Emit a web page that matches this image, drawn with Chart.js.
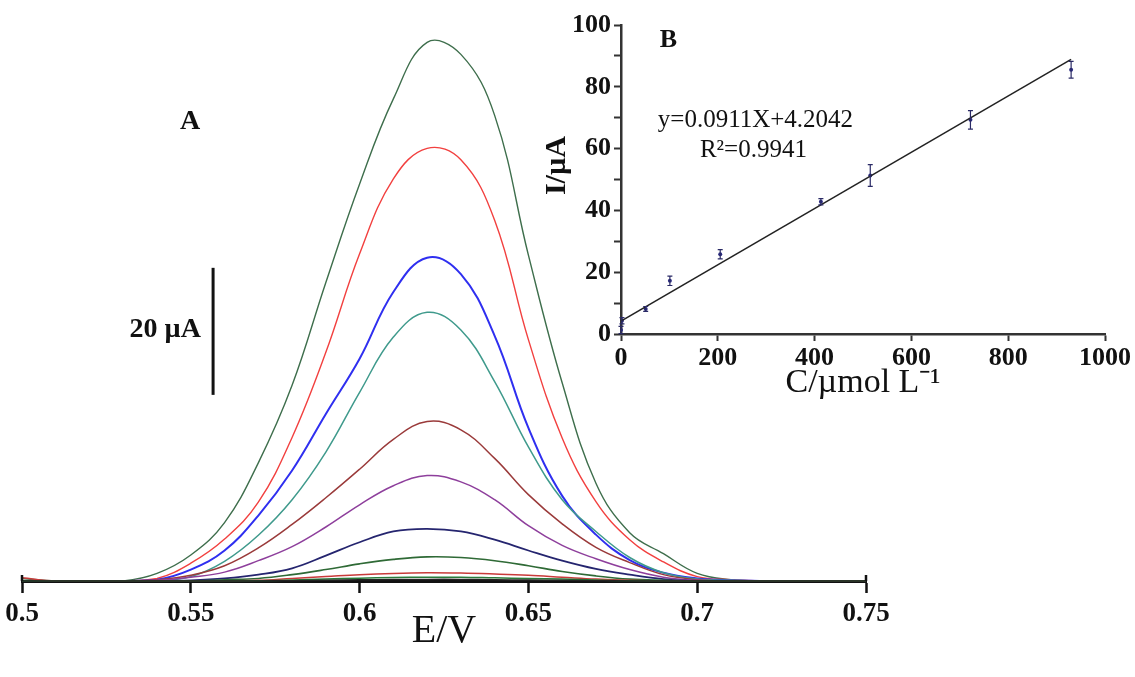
<!DOCTYPE html>
<html><head><meta charset="utf-8">
<script src="https://cdn.jsdelivr.net/npm/chart.js@4.4.1/dist/chart.umd.min.js"></script>
<style>
html,body{margin:0;padding:0;background:#fff;}
#wrap{position:relative;width:1135px;height:677px;overflow:hidden;}
#main{position:absolute;left:0;top:0;}
#inset{position:absolute;left:540px;top:0;}
</style></head><body>
<div id="wrap">
<canvas id="main" width="1135" height="677"></canvas>
<canvas id="inset" width="595" height="420"></canvas>
</div>
<script>
// ---------- Panel A: DPV curves (E in V, I in µA) ----------
const potentials = [0.50, 0.51, 0.52, 0.53, 0.54, 0.55, 0.56, 0.57, 0.58, 0.59, 0.60, 0.61, 0.62, 0.63, 0.64, 0.65, 0.66, 0.67, 0.68, 0.69, 0.70, 0.71, 0.72, 0.73, 0.74, 0.75];
const curve1  = [0.4, 0, 0, 0, 1.2, 4.1, 9.2, 18.6, 30.8, 47, 62.5, 75.9, 84.8, 82.9, 73.3, 51.3, 31.2, 15.4, 7.6, 4.3, 1.2, 0.2, 0, 0, 0, 0];
const curve2  = [0, 0, 0, 0, 0.4, 2.8, 6.6, 12.4, 22.6, 36, 51.5, 63.3, 68.1, 66.3, 56.8, 38, 22.5, 12.5, 6.5, 3.0, 0.7, 0.2, 0, 0, 0, 0];
const curve3  = [0, 0, 0, 0, 0.2, 1.8, 4.8, 10.3, 17.4, 26.3, 35, 45.5, 50.9, 48.3, 38.6, 24.1, 13.4, 7.3, 3.3, 1.3, 0.4, 0.1, 0, 0, 0, 0];
const curve4  = [0, 0, 0, 0, 0, 0.7, 3.1, 7.2, 12.8, 20.3, 29.7, 38.4, 42.3, 39.5, 31.4, 21.1, 12.8, 7.8, 3.7, 1.3, 0.3, 0.1, 0, 0, 0, 0];
const curve5  = [0, 0, 0, 0, 0.2, 0.9, 2.4, 5.2, 8.9, 13.1, 17.6, 22.3, 25.1, 23.8, 19.3, 13.6, 9.0, 5.3, 2.9, 1.0, 0.2, 0, 0, 0, 0, 0];
const curve6  = [0, 0, 0, 0, 0.1, 0.6, 1.4, 3.2, 5.4, 8.5, 12.0, 15.0, 16.6, 15.6, 12.8, 8.7, 5.6, 3.5, 1.8, 0.6, 0.1, 0, 0, 0, 0, 0];
const curve7  = [0, 0, 0, 0, 0, 0.1, 0.4, 1.0, 2.0, 4.0, 6.1, 7.8, 8.2, 7.8, 6.5, 4.8, 3.2, 1.9, 1.0, 0.3, 0, 0, 0, 0, 0, 0];
const curve8  = [0, 0, 0, 0, 0, 0, 0.2, 0.4, 1.0, 1.8, 2.7, 3.4, 3.8, 3.7, 3.2, 2.4, 1.5, 0.8, 0.3, 0.1, 0, 0, 0, 0, 0, 0];
const curve9  = [0.5, 0, 0, 0, 0, 0, 0, 0.1, 0.4, 0.7, 1.0, 1.2, 1.3, 1.25, 1.1, 0.9, 0.6, 0.3, 0.1, 0, 0, 0, 0, 0, 0, 0];
const curve10 = [0, 0, 0, 0, 0, 0, 0, 0.05, 0.15, 0.3, 0.45, 0.55, 0.6, 0.6, 0.5, 0.4, 0.3, 0.15, 0.05, 0, 0, 0, 0, 0, 0, 0];
const curve11 = [0, 0, 0, 0, 0, 0, 0, 0, 0.05, 0.1, 0.18, 0.22, 0.25, 0.25, 0.2, 0.15, 0.1, 0.05, 0, 0, 0, 0, 0, 0, 0, 0];
const potentialTicks = [0.5, 0.55, 0.6, 0.65, 0.7, 0.75];

// ---------- Panel B: calibration ----------
const concC    = [0, 2, 51, 101, 205, 413, 515, 722, 930];
const currentI = [1.3, 4.3, 8.1, 17.2, 25.8, 42.8, 51.3, 69.3, 85.5];
const errI     = [1.2, 1.0, 0.8, 1.5, 1.5, 1.0, 3.5, 3.0, 2.7];
const fitC = [0, 930];
const fitI = [4.2, 88.9];
const concTicks = [0, 200, 400, 600, 800, 1000];

const SERIF = "'Liberation Serif', 'Times New Roman', serif";
const curves = [curve1, curve2, curve3, curve4, curve5, curve6, curve7, curve8, curve9, curve10, curve11];
const colors = ['#3e6e4c', '#f2403f', '#2f2ff0', '#3f9a8c', '#9a3a3a', '#8e3f9c', '#25256f', '#2f6a36', '#c83a3a', '#2a7a3a', '#222222'];
const widths = [1.4, 1.4, 2.0, 1.5, 1.5, 1.5, 1.8, 1.6, 1.5, 1.5, 1.5];

const mainNotes = {
  id: 'mainNotes',
  afterDraw(chart) {
    const {ctx, scales: {x, y}} = chart;
    ctx.save();
    ctx.fillStyle = '#111';
    ctx.textBaseline = 'middle';
    ctx.font = `bold 28px ${SERIF}`;
    ctx.textAlign = 'left';
    ctx.fillText('A', x.getPixelForValue(0.5468), y.getPixelForValue(72.3));
    const bx = x.getPixelForValue(0.5566);
    ctx.strokeStyle = '#111';
    ctx.lineWidth = 3;
    ctx.beginPath();
    ctx.moveTo(bx, y.getPixelForValue(29.3));
    ctx.lineTo(bx, y.getPixelForValue(49.3));
    ctx.stroke();
    ctx.font = `bold 28px ${SERIF}`;
    ctx.textAlign = 'right';
    ctx.fillText('20 µA', x.getPixelForValue(0.5530), y.getPixelForValue(39.5));
    // end caps of the potential axis
    ctx.lineWidth = 2.5;
    [x.min, x.max].forEach(v => {
      const px = x.getPixelForValue(v);
      const py = y.getPixelForValue(0);
      ctx.beginPath(); ctx.moveTo(px, py - 6); ctx.lineTo(px, py); ctx.stroke();
    });
    ctx.restore();
  }
};

new Chart(document.getElementById('main'), {
  type: 'line',
  data: {
    datasets: curves.map((c, i) => ({
      data: potentials.map((e, j) => ({x: e, y: c[j]})),
      borderColor: colors[i],
      borderWidth: widths[i],
      pointRadius: 0,
      fill: false,
      tension: 0.4,
      clip: 6
    })).reverse()
  },
  options: {
    responsive: false,
    animation: false,
    layout: {padding: {left: 22, right: 269, top: 22, bottom: 0}},
    plugins: {legend: {display: false}, tooltip: {enabled: false}},
    scales: {
      x: {
        type: 'linear', min: 0.5, max: 0.75,
        afterBuildTicks(s) { s.ticks = potentialTicks.map(v => ({value: v})); },
        ticks: {color: '#111', font: {family: SERIF, size: 27, weight: 'bold'}, padding: 5, maxRotation: 0,
          callback: v => String(+v.toFixed(2))},
        grid: {drawOnChartArea: false, drawTicks: true, tickLength: 12, tickColor: '#111', tickWidth: 2.5},
        border: {display: true, color: '#111', width: 3},
        title: {display: true, text: 'E/V', color: '#111', font: {family: SERIF, size: 40}, padding: {top: 0, bottom: 22}},
        afterFit(s) { s.height = 96; }
      },
      y: {display: false, min: 0, max: 88}
    }
  },
  plugins: [mainNotes]
});

const errorBars = {
  id: 'errorBars',
  afterDatasetsDraw(chart) {
    const {ctx, scales: {x, y}} = chart;
    ctx.save();
    ctx.strokeStyle = '#2a2a66';
    ctx.lineWidth = 1.2;
    concC.forEach((c, i) => {
      const px = x.getPixelForValue(c);
      const t = y.getPixelForValue(currentI[i] + errI[i]);
      const b = y.getPixelForValue(currentI[i] - errI[i]);
      ctx.beginPath();
      ctx.moveTo(px, t); ctx.lineTo(px, b);
      ctx.moveTo(px - 2.5, t); ctx.lineTo(px + 2.5, t);
      ctx.moveTo(px - 2.5, b); ctx.lineTo(px + 2.5, b);
      ctx.stroke();
    });
    ctx.restore();
  }
};

const insetNotes = {
  id: 'insetNotes',
  afterDraw(chart) {
    const {ctx, scales: {x, y}} = chart;
    ctx.save();
    ctx.fillStyle = '#111';
    ctx.textBaseline = 'middle';
    ctx.textAlign = 'left';
    ctx.font = `bold 26px ${SERIF}`;
    ctx.fillText('B', x.getPixelForValue(80), y.getPixelForValue(95));
    ctx.font = `25px ${SERIF}`;
    ctx.fillText('y=0.0911X+4.2042', x.getPixelForValue(76), y.getPixelForValue(69));
    ctx.fillText('R²=0.9941', x.getPixelForValue(163), y.getPixelForValue(59.5));
    // y-axis title, placed above the axis centre as in the original
    ctx.translate(y.left + 17, y.getPixelForValue(54.5));
    ctx.rotate(-Math.PI / 2);
    ctx.textAlign = 'center';
    ctx.font = `bold 30px ${SERIF}`;
    ctx.fillText('I/µA', 0, 0);
    ctx.restore();
  }
};

new Chart(document.getElementById('inset'), {
  type: 'scatter',
  data: {
    datasets: [
      {data: fitC.map((v, i) => ({x: v, y: fitI[i]})), showLine: true, borderColor: '#222', borderWidth: 1.5, pointRadius: 0},
      {data: concC.map((v, i) => ({x: v, y: currentI[i]})), showLine: false, pointRadius: 2, pointBackgroundColor: '#2a2a80', pointBorderWidth: 0}
    ]
  },
  options: {
    responsive: false,
    animation: false,
    layout: {padding: {left: 0, right: 30, top: 25, bottom: 0}},
    plugins: {legend: {display: false}, tooltip: {enabled: false}},
    scales: {
      x: {
        type: 'linear', min: 0, max: 1000,
        afterBuildTicks(s) { s.ticks = concTicks.map(v => ({value: v})); },
        ticks: {autoSkip: false, maxRotation: 0, color: '#111', font: {family: SERIF, size: 26, weight: 'bold'}, padding: 2,
          callback: v => String(v)},
        grid: {drawOnChartArea: false, tickLength: 7, tickColor: '#333', tickWidth: 2},
        border: {display: true, color: '#333', width: 2.5},
        title: {display: true, text: 'C/µmol L⁻¹', color: '#111', font: {family: SERIF, size: 34}, padding: {top: 0, bottom: 17}},
        afterFit(s) { s.height = 86; }
      },
      y: {
        min: 0, max: 100,
        ticks: {stepSize: 10, autoSkip: false, color: '#111', font: {family: SERIF, size: 26, weight: 'bold'}, padding: 3,
          callback: v => (v % 20 === 0 ? String(v) : '')},
        grid: {drawOnChartArea: false, tickLength: 7, tickColor: '#333', tickWidth: 2},
        border: {display: true, color: '#333', width: 2.5},
        title: {display: false},
        afterFit(s) { s.width = 81; }
      }
    }
  },
  plugins: [errorBars, insetNotes]
});
</script>
</body></html>
